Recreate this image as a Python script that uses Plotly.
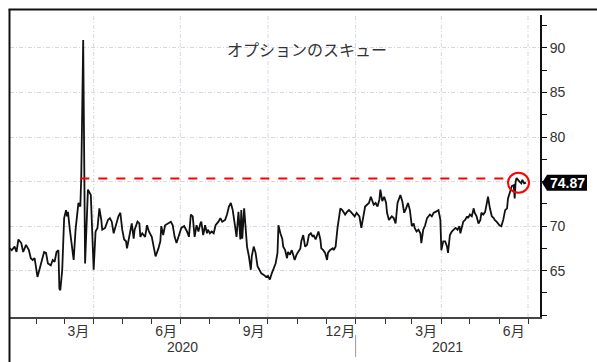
import plotly.graph_objects as go
import pandas as pd

TITLE = "オプションのスキュー"

DATES = [
    # Jan - early Apr 2020
    "2020-01-04", "2020-01-06", "2020-01-09", "2020-01-11", "2020-01-13", "2020-01-16", "2020-01-18",
    "2020-01-21", "2020-01-24", "2020-01-26", "2020-01-28", "2020-01-30", "2020-02-02", "2020-02-04",
    "2020-02-06", "2020-02-09", "2020-02-11", "2020-02-13", "2020-02-16", "2020-02-18", "2020-02-20",
    "2020-02-22", "2020-02-24", "2020-02-25", "2020-02-26", "2020-02-28", "2020-03-01", "2020-03-03",
    "2020-03-04", "2020-03-05", "2020-03-07", "2020-03-10", "2020-03-11", "2020-03-13", "2020-03-16",
    "2020-03-18", "2020-03-19", "2020-03-21", "2020-03-23", "2020-03-26", "2020-03-29", "2020-04-01",
    "2020-04-03", "2020-04-05", "2020-04-07", "2020-04-09",
    # Apr - mid Jul 2020
    "2020-04-10", "2020-04-13", "2020-04-15", "2020-04-16", "2020-04-18", "2020-04-20", "2020-04-22",
    "2020-04-23", "2020-04-25", "2020-04-27", "2020-04-29", "2020-05-01", "2020-05-03", "2020-05-05",
    "2020-05-06", "2020-05-08", "2020-05-11", "2020-05-13", "2020-05-14", "2020-05-17", "2020-05-19",
    "2020-05-20", "2020-05-22", "2020-05-25", "2020-05-27", "2020-05-29", "2020-06-01", "2020-06-03",
    "2020-06-05", "2020-06-08", "2020-06-10", "2020-06-11", "2020-06-13", "2020-06-15", "2020-06-18",
    "2020-06-21", "2020-06-23", "2020-06-25", "2020-06-27", "2020-06-30", "2020-07-02", "2020-07-05",
    "2020-07-08", "2020-07-10", "2020-07-12", "2020-07-14",
    # mid Jul - mid Oct 2020
    "2020-07-15", "2020-07-16", "2020-07-18", "2020-07-20", "2020-07-22", "2020-07-23", "2020-07-25",
    "2020-07-27", "2020-07-29", "2020-07-30", "2020-08-01", "2020-08-03", "2020-08-05", "2020-08-07",
    "2020-08-10", "2020-08-12", "2020-08-14", "2020-08-17", "2020-08-19", "2020-08-21", "2020-08-23",
    "2020-08-25", "2020-08-27", "2020-08-29", "2020-08-31", "2020-09-02", "2020-09-03", "2020-09-04",
    "2020-09-06", "2020-09-08", "2020-09-09", "2020-09-11", "2020-09-13", "2020-09-14", "2020-09-16",
    "2020-09-18", "2020-09-20", "2020-09-22", "2020-09-24", "2020-09-27", "2020-09-29", "2020-10-01",
    "2020-10-03", "2020-10-05", "2020-10-07", "2020-10-09", "2020-10-11", "2020-10-12", "2020-10-14",
    "2020-10-16",
    # mid Oct 2020 - mid Jan 2021
    "2020-10-17", "2020-10-19", "2020-10-21", "2020-10-22", "2020-10-24", "2020-10-26", "2020-10-28",
    "2020-10-29", "2020-10-31", "2020-11-02", "2020-11-04", "2020-11-05", "2020-11-07", "2020-11-09",
    "2020-11-11", "2020-11-13", "2020-11-15", "2020-11-17", "2020-11-18", "2020-11-20", "2020-11-22",
    "2020-11-23", "2020-11-25", "2020-11-26", "2020-11-28", "2020-11-30", "2020-12-02", "2020-12-03",
    "2020-12-05", "2020-12-08", "2020-12-09", "2020-12-11", "2020-12-13", "2020-12-15", "2020-12-16",
    "2020-12-18", "2020-12-21", "2020-12-23", "2020-12-25", "2020-12-27", "2020-12-29", "2020-12-31",
    "2021-01-02", "2021-01-05", "2021-01-07", "2021-01-09", "2021-01-11", "2021-01-13", "2021-01-15",
    "2021-01-17", "2021-01-19",
    # mid Jan - Apr 2021
    "2021-01-20", "2021-01-22", "2021-01-24", "2021-01-26", "2021-01-27", "2021-01-29", "2021-01-31",
    "2021-02-02", "2021-02-03", "2021-02-05", "2021-02-08", "2021-02-10", "2021-02-12", "2021-02-14",
    "2021-02-16", "2021-02-17", "2021-02-19", "2021-02-21", "2021-02-23", "2021-02-25", "2021-02-27",
    "2021-03-01", "2021-03-03", "2021-03-04", "2021-03-06", "2021-03-08", "2021-03-10", "2021-03-11",
    "2021-03-13", "2021-03-15", "2021-03-17", "2021-03-20", "2021-03-22", "2021-03-24", "2021-03-26",
    "2021-03-29", "2021-03-31", "2021-04-01", "2021-04-03", "2021-04-05", "2021-04-07", "2021-04-08",
    "2021-04-10", "2021-04-12", "2021-04-14", "2021-04-16", "2021-04-18", "2021-04-20", "2021-04-21",
    "2021-04-23",
    # late Apr - Jun 2021
    "2021-04-24", "2021-04-26", "2021-04-28", "2021-04-29", "2021-05-01", "2021-05-03", "2021-05-05",
    "2021-05-06", "2021-05-08", "2021-05-10", "2021-05-12", "2021-05-13", "2021-05-15", "2021-05-17",
    "2021-05-19", "2021-05-20", "2021-05-22", "2021-05-24", "2021-05-26", "2021-05-27", "2021-05-29",
    "2021-06-01", "2021-06-03", "2021-06-05", "2021-06-07", "2021-06-09", "2021-06-10", "2021-06-12",
    "2021-06-14", "2021-06-16", "2021-06-17", "2021-06-18", "2021-06-19", "2021-06-22", "2021-06-24",
    "2021-06-25", "2021-06-27", "2021-06-29",
]

SKEW = [
    # Jan - early Apr 2020
    67.5, 67.3, 67.7, 67.1, 68.5, 68.1, 67.1,
    67.9, 67.3, 66.4, 66.2, 66.4, 64.3, 65.1,
    65.7, 67.1, 67.0, 65.8, 65.6, 66.2, 66.0,
    67.1, 67.3, 63.0, 62.8, 65.1, 70.9, 71.8,
    71.1, 71.6, 69.6, 67.3, 66.2, 69.6, 72.6,
    72.2, 75.6, 90.9, 65.8, 74.1, 73.5, 65.1,
    69.4, 69.8, 72.0, 70.7,
    # Apr - mid Jul 2020
    69.6, 69.8, 70.3, 70.7, 70.9, 70.5, 69.2,
    69.6, 70.3, 71.1, 71.5, 69.6, 68.5, 68.3,
    67.5, 68.5, 70.3, 68.6, 69.6, 70.5, 70.3,
    68.8, 69.2, 68.8, 70.1, 69.4, 68.8, 67.7,
    66.6, 67.5, 68.3, 70.0, 69.0, 70.1, 70.3,
    70.5, 70.1, 68.8, 68.1, 69.0, 69.8, 70.0,
    69.4, 68.8, 71.3, 71.1,
    # mid Jul - mid Oct 2020
    70.0, 68.8, 70.1, 69.4, 70.3, 70.5, 69.0,
    70.1, 69.2, 69.6, 69.2, 69.4, 69.2, 70.1,
    70.5, 70.9, 70.5, 70.7, 71.3, 72.2, 72.6,
    71.8, 70.3, 68.8, 71.6, 68.5, 71.8, 68.6,
    72.0, 68.8, 67.7, 66.6, 65.1, 66.6, 67.7,
    67.0, 65.5, 65.1, 64.7, 64.5, 64.3, 64.4,
    64.0, 64.7, 65.3, 65.8, 67.0, 70.1, 69.2,
    68.6,
    # mid Oct 2020 - mid Jan 2021
    67.7, 67.3, 66.4, 67.1, 66.8, 67.3, 66.6,
    66.2, 66.8, 67.1, 67.5, 68.3, 69.0, 67.7,
    67.9, 69.0, 69.2, 68.8, 69.0, 68.5, 69.2,
    69.4, 68.5, 67.5, 67.3, 67.0, 66.2, 67.0,
    67.3, 67.5, 67.3, 67.7, 69.8, 71.1, 72.0,
    71.8, 71.3, 71.6, 71.8, 71.6, 71.3, 71.1,
    71.5, 71.1, 69.8, 70.9, 72.2, 72.4, 72.6,
    73.3, 72.6,
    # mid Jan - Apr 2021
    72.4, 72.6, 72.2, 73.0, 74.1, 72.8, 73.3,
    72.6, 71.5, 70.7, 71.1, 70.9, 70.3, 72.6,
    73.1, 73.5, 72.8, 71.5, 72.0, 72.6, 71.8,
    70.0, 70.3, 69.8, 69.4, 69.6, 69.2, 68.1,
    69.6, 70.1, 70.9, 71.3, 71.1, 71.5, 71.6,
    71.8, 70.7, 67.3, 68.3, 68.3, 67.7, 67.0,
    69.0, 69.4, 69.6, 69.8, 69.6, 70.0, 69.2,
    70.0,
    # late Apr - Jun 2021
    70.5, 70.7, 71.1, 70.9, 71.3, 71.1, 72.0,
    71.5, 71.1, 70.3, 70.7, 71.5, 71.3, 71.6,
    72.6, 73.3, 72.0, 71.1, 70.9, 70.7, 70.5,
    70.1, 70.0, 70.7, 71.8, 72.0, 73.1, 73.9,
    74.5, 74.6, 73.1, 75.0, 75.4, 75.0, 74.8,
    75.2, 74.8, 74.87,
]
assert len(DATES) == len(SKEW)

X_RANGE = ["2020-01-04 04:00", "2021-07-13 14:00"]
Y_RANGE = [59.8, 93.7]
Y_TICKS = [65, 70, 75, 80, 85, 90]
Y_TICKTEXT = ["65", "70", "", "80", "85", "90"]
MONTH_LABEL_DATES = ["2020-03-16", "2020-06-16", "2020-09-16", "2020-12-16", "2021-03-16", "2021-06-16"]
MONTH_LABELS = ["3月", "6月", "9月", "12月", "3月", "6月"]
YEAR_LABELS = ["2020", "2021"]
YEAR_BREAK = "2021-01-01"
REF_LEVEL = 75.35
REF_START = "2020-03-18"
REF_END = "2021-06-11"
CIRCLE_AT = "2021-06-21"

month_starts = pd.date_range("2020-02-01", "2021-07-01", freq="MS")
quarter_starts = pd.date_range("2020-04-01", "2021-07-01", freq="QS")

FONT = "Liberation Sans, Noto Sans CJK JP, sans-serif"
GRID = "#d3d8e2"
GRID_DASH = "4px,2px,1px,2px"
TXT = "#333333"

fig = go.Figure()
fig.add_trace(go.Scatter(x=DATES, y=SKEW, mode="lines",
                         line=dict(color="#111111", width=1.8), showlegend=False,
                         hoverinfo="skip"))

shapes = []
for q in quarter_starts:
    shapes.append(dict(type="line", xref="x", yref="paper", x0=q, x1=q, y0=0, y1=1,
                       line=dict(color=GRID, width=1, dash=GRID_DASH), layer="below"))
# red reference level
shapes.append(dict(type="line", xref="x", yref="y", x0=REF_START, x1=REF_END,
                   y0=REF_LEVEL, y1=REF_LEVEL, line=dict(color="#ff0000", width=2, dash="dash")))
# red circle around latest values
shapes.append(dict(type="circle", xref="x", yref="y", xsizemode="pixel", ysizemode="pixel",
                   xanchor=CIRCLE_AT, yanchor=SKEW[-1], x0=-10.5, x1=10.5, y0=-10, y1=10,
                   line=dict(color="#ff0000", width=2)))
# last value tag
shapes.append(dict(type="path", xref="paper", yref="y", xsizemode="pixel", ysizemode="pixel",
                   xanchor=1, yanchor=SKEW[-1],
                   path="M 2 0 L 7 8 L 47 8 L 47 -8 L 7 -8 Z",
                   fillcolor="#000000", line=dict(width=0)))
# year separator
shapes.append(dict(type="line", xref="x", yref="paper", x0=YEAR_BREAK, x1=YEAR_BREAK,
                   y0=-18 / 302, y1=-40 / 302, line=dict(color="#999999", width=1)))
# outer frame (left + top)
shapes.append(dict(type="line", xref="paper", yref="paper", x0=-0.5 / 530, x1=-0.5 / 530,
                   y0=-45 / 302, y1=1 + 5.5 / 302, line=dict(color="#111111", width=2)))
shapes.append(dict(type="line", xref="paper", yref="paper", x0=-1.5 / 530, x1=587 / 530,
                   y0=1 + 5.5 / 302, y1=1 + 5.5 / 302, line=dict(color="#111111", width=2)))

x0 = pd.Timestamp(X_RANGE[0])
x1 = pd.Timestamp(X_RANGE[1])
yb = pd.Timestamp(YEAR_BREAK)
year_pos = [x0 + (yb - x0) / 2, yb + (x1 - yb) / 2]

annotations = [
    dict(text=TITLE, xref="paper", yref="paper", x=297 / 530, y=1 - 20 / 302,
         showarrow=False, font=dict(family="Noto Sans CJK JP", size=16, color=TXT)),
    dict(text=f"{SKEW[-1]:.2f}", xref="paper", yref="y", x=1, xshift=27, y=SKEW[-1],
         showarrow=False, xanchor="center", yanchor="middle",
         font=dict(family="Liberation Sans", size=14, color="#ffffff", weight="bold")),
]
for pos, lab in zip(year_pos, YEAR_LABELS):
    annotations.append(dict(text=lab, xref="x", yref="paper", x=pos, y=-30 / 302,
                            showarrow=False, yanchor="middle",
                            font=dict(family=FONT, size=14, color=TXT)))

fig.update_layout(
    width=597, height=362,
    margin=dict(l=10, r=57, t=15, b=45, pad=0),
    paper_bgcolor="white", plot_bgcolor="white",
    font=dict(family=FONT, size=14, color=TXT),
    showlegend=False,
    shapes=shapes,
    annotations=annotations,
    xaxis=dict(
        type="date", range=X_RANGE,
        tickmode="array", tickvals=MONTH_LABEL_DATES, ticktext=MONTH_LABELS,
        ticks="", showgrid=False, zeroline=False,
        showline=True, linecolor="#444444", linewidth=2,
        tickfont=dict(family=FONT, size=14, color=TXT),
        minor=dict(tickmode="array", tickvals=list(month_starts), ticks="outside",
                   ticklen=5, tickwidth=1, tickcolor="#333333", showgrid=False),
    ),
    yaxis=dict(
        side="right", range=Y_RANGE,
        tickmode="array", tickvals=Y_TICKS, ticktext=Y_TICKTEXT,
        ticks="outside", ticklen=5, tickwidth=1, tickcolor="#111111",
        showline=True, linecolor="#111111", linewidth=2,
        showgrid=True, gridcolor=GRID, griddash=GRID_DASH, gridwidth=1,
        zeroline=False,
        tickfont=dict(family=FONT, size=14, color=TXT),
        minor=dict(dtick=2.5, tick0=0, ticks="outside", ticklen=5, tickwidth=1,
                   tickcolor="#111111", showgrid=False),
    ),
)

fig.write_html("out.html")
